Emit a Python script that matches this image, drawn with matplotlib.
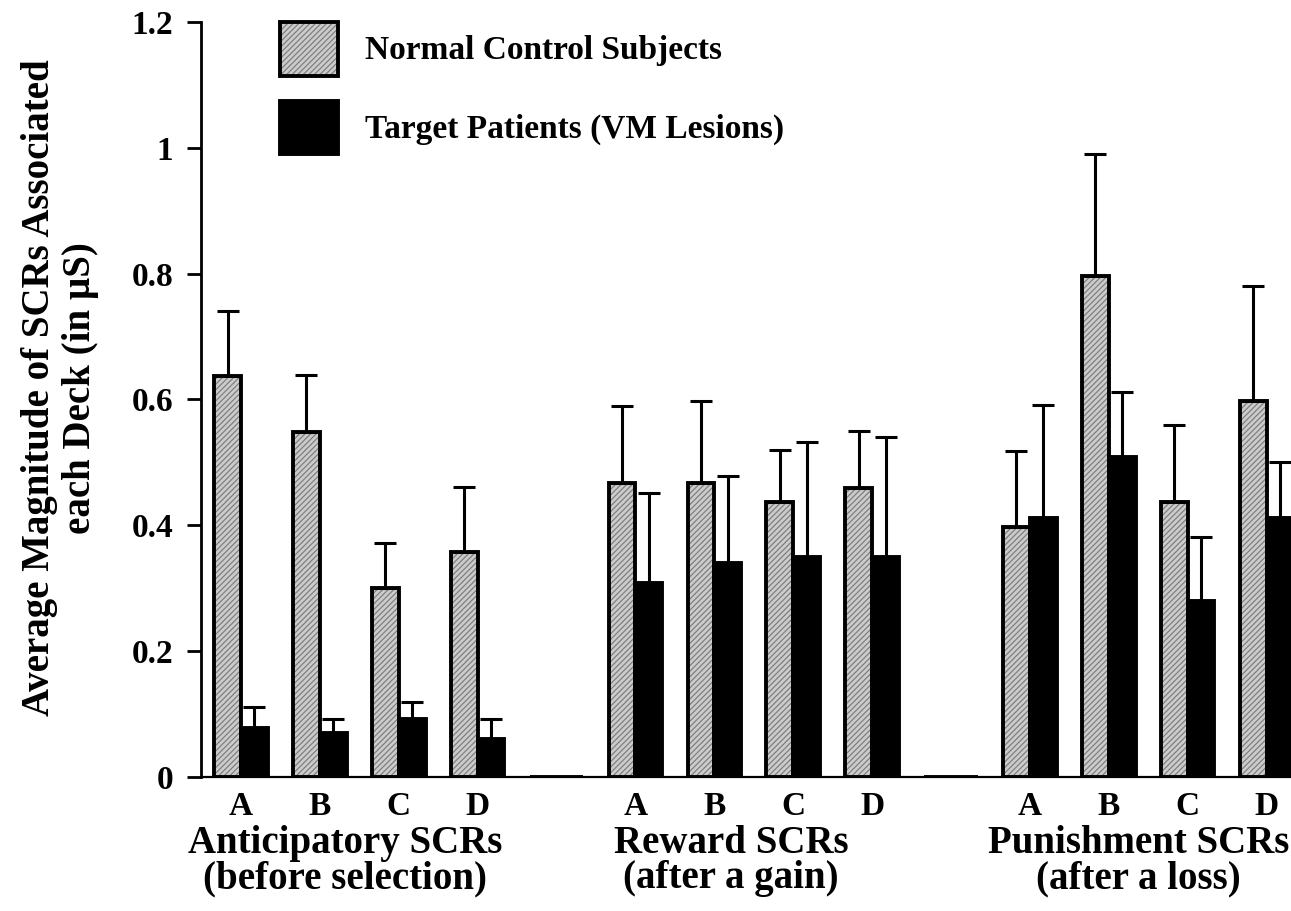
import numpy as np
import matplotlib
matplotlib.use("Agg")
import matplotlib.pyplot as plt
from matplotlib.legend_handler import HandlerTuple

plt.rcParams["font.family"] = ["Liberation Serif", "DejaVu Serif"]
plt.rcParams["font.weight"] = "bold"
plt.rcParams["hatch.linewidth"] = 0.9

# deck labels, with an empty slot between the three SCR groups
decks = ["A", "B", "C", "D", "", "A", "B", "C", "D", "", "A", "B", "C", "D"]
groups = ["Anticipatory SCRs\n(before selection)",
          "Reward SCRs\n(after a gain)",
          "Punishment SCRs\n(after a loss)"]

normal = [0.637, 0.549, 0.300, 0.358, 0, 0.468, 0.468, 0.437, 0.459, 0, 0.398, 0.797, 0.437, 0.597]
normal_err = [0.104, 0.090, 0.072, 0.103, 0, 0.122, 0.130, 0.082, 0.091, 0, 0.120, 0.193, 0.122, 0.184]
patients = [0.078, 0.070, 0.092, 0.061, 0, 0.309, 0.340, 0.349, 0.349, 0, 0.411, 0.509, 0.279, 0.411]
patients_err = [0.033, 0.022, 0.028, 0.031, 0, 0.143, 0.139, 0.184, 0.192, 0, 0.180, 0.103, 0.102, 0.090]

x = np.arange(len(decks))
w = 0.34

fig = plt.figure(figsize=(12.91, 9.11), dpi=100)
ax = fig.add_axes([201 / 1291, 134 / 911, 1 - 201 / 1291, 755 / 911])

# gray stippled bars: texture layer, then outline layer
g1 = ax.bar(x - w / 2, normal, w, color="#cccccc", edgecolor="#7f7f7f",
            hatch="//////", linewidth=0, zorder=2)
g2 = ax.bar(x - w / 2, normal, w, facecolor="none", edgecolor="black",
            linewidth=2.8, zorder=3)
b1 = ax.bar(x + w / 2, patients, w, color="black", edgecolor="black",
            linewidth=2.8, zorder=3)

ne = np.array(normal_err)
pe = np.array(patients_err)
m = ne > 0
ax.errorbar(x[m] - w / 2, np.array(normal)[m], yerr=[np.zeros(m.sum()), ne[m]],
            fmt="none", ecolor="black", elinewidth=2.2, capsize=8, capthick=2.2, zorder=2.5)
m = pe > 0
ax.errorbar(x[m] + w / 2, np.array(patients)[m], yerr=[np.zeros(m.sum()), pe[m]],
            fmt="none", ecolor="black", elinewidth=2.2, capsize=8, capthick=2.2, zorder=2.5)

ax.set_xlim(-0.507, 13.31)
ax.set_ylim(0, 1.2)
ax.set_yticks([0, 0.2, 0.4, 0.6, 0.8, 1.0, 1.2])
ax.set_yticklabels(["0", "0.2", "0.4", "0.6", "0.8", "1", "1.2"])
ax.set_xticks(x)
ax.set_xticklabels(decks)
ax.tick_params(axis="y", direction="out", length=10, width=2, pad=10, labelsize=24)
ax.tick_params(axis="x", length=0, pad=10, labelsize=24)

for s in ["top", "right"]:
    ax.spines[s].set_visible(False)
ax.spines["left"].set_linewidth(2)
ax.spines["bottom"].set_linewidth(1.6)

# group captions under the deck letters
centers = [1.32, 6.21, 11.38]
for c, g in zip(centers, groups):
    ax.text(c, -0.063, g, ha="center", va="top", fontsize=28,
            linespacing=0.95, transform=ax.get_xaxis_transform())

fig.text(60 / 1291, 1 - 388 / 911,
         "Average Magnitude of SCRs Associated\neach Deck (in µS)",
         rotation=90, ha="center", va="center", fontsize=28,
         multialignment="center", linespacing=1.15)

ax.legend([(g1[0], g2[0]), b1[0]],
          ["Normal Control Subjects", "Target Patients (VM Lesions)"],
          handler_map={tuple: HandlerTuple(ndivide=1, pad=0)},
          loc="upper left", bbox_to_anchor=(280 / 1291, 1 - 22 / 911),
          bbox_transform=fig.transFigure, frameon=False, fontsize=24,
          borderpad=0, borderaxespad=0, handlelength=1.75, handleheight=2.1,
          handletextpad=0.8, labelspacing=0.75)

fig.savefig("out.png", dpi=100)
